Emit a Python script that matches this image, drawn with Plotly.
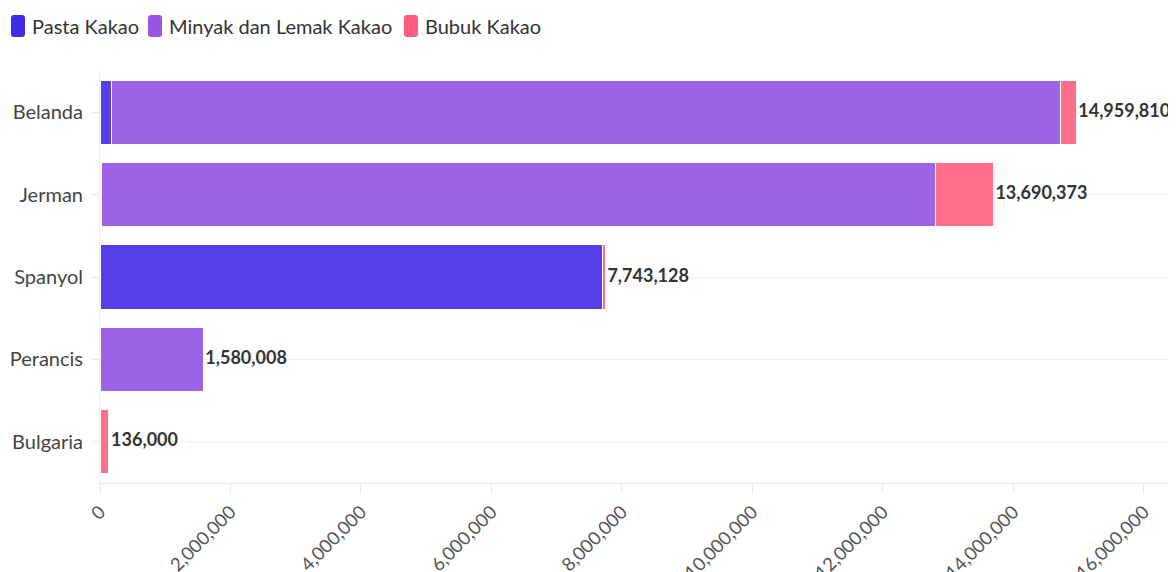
import plotly.graph_objects as go

countries = ["Belanda", "Jerman", "Spanyol", "Perancis", "Bulgaria"]
pasta = [178000, 20000, 7700000, None, None]
minyak = [14551810, 12790000, None, 1580008, None]
bubuk = [230000, 880373, 43128, None, 136000]

totals = [sum(v or 0 for v in vals) for vals in zip(pasta, minyak, bubuk)]

series = [
    ("Pasta Kakao", pasta, "#553fe8", "#3f2de6"),
    ("Minyak dan Lemak Kakao", minyak, "#9c63e6", "#9a55e3"),
    ("Bubuk Kakao", bubuk, "#ff6e8b", "#ff5d80"),
]

W, H = 1168, 564          # page body has an 8px margin, so size to the visible area
L, R, T, B = 92, 8, 63, 89


def px(x, y):
    # figure pixels -> paper coordinates
    return (x - L) / (W - L - R), (H - B - y) / (H - T - B)


fig = go.Figure()
for name, vals, color, _ in series:
    fig.add_trace(go.Bar(
        name=name, y=countries, x=vals, orientation="h",
        marker=dict(color=color, line=dict(color="white", width=1)),
        showlegend=False,
    ))

fig.add_trace(go.Scatter(
    x=totals, y=countries, mode="text",
    text=[f"\u2009{t:,}" for t in totals], textposition="middle right",
    textfont=dict(size=18, color="#333333", family="Lato", weight="bold"),
    showlegend=False, hoverinfo="skip", cliponaxis=False,
))

# hand-made legend: rounded swatch + label
legend_x = [3, 140, 396]
for (name, _, _, swatch), lx in zip(series, legend_x):
    x0, y0 = px(lx, 29)
    x1, y1 = px(lx + 14, 7)
    r = 3 / (W - L - R)
    ry = 3 / (H - T - B)
    path = (f"M {x0 + r},{y0} L {x1 - r},{y0} Q {x1},{y0} {x1},{y0 + ry} "
            f"L {x1},{y1 - ry} Q {x1},{y1} {x1 - r},{y1} L {x0 + r},{y1} "
            f"Q {x0},{y1} {x0},{y1 - ry} L {x0},{y0 + ry} Q {x0},{y0} {x0 + r},{y0} Z")
    fig.add_shape(type="path", path=path, xref="paper", yref="paper",
                  fillcolor=swatch, line=dict(width=0))
    tx, ty = px(lx + 19, 18)
    fig.add_annotation(x=tx, y=ty, xref="paper", yref="paper", text=name,
                       showarrow=False, xanchor="left", yanchor="middle",
                       font=dict(size=20, color="#333333"))

fig.update_layout(
    width=W, height=H,
    barmode="stack", bargap=0.22,
    plot_bgcolor="white", paper_bgcolor="white",
    font=dict(family="Lato", size=16, color="#333333"),
    margin=dict(l=L, r=R, t=T, b=B),
    showlegend=False,
    xaxis=dict(
        range=[0, 16.37e6], tickvals=[i * 2e6 for i in range(9)],
        tickformat=",d", tickangle=-45, showgrid=False, automargin=False,
        ticks="outside", ticklen=10, tickcolor="#e6e6e6",
        showline=True, linecolor="#e6e6e6", linewidth=1,
        tickfont=dict(size=18.5, color="#555555"), zeroline=False,
    ),
    yaxis=dict(
        autorange="reversed", showgrid=True, gridcolor="#eeeeee",
        automargin=False, ticklabelstandoff=4,
        ticks="outside", ticklen=8, tickcolor="#e6e6e6",
        tickfont=dict(size=20, color="#444444"),
        showline=True, linecolor="#eeeeee",
    ),
)

fig.write_html("out.html")
